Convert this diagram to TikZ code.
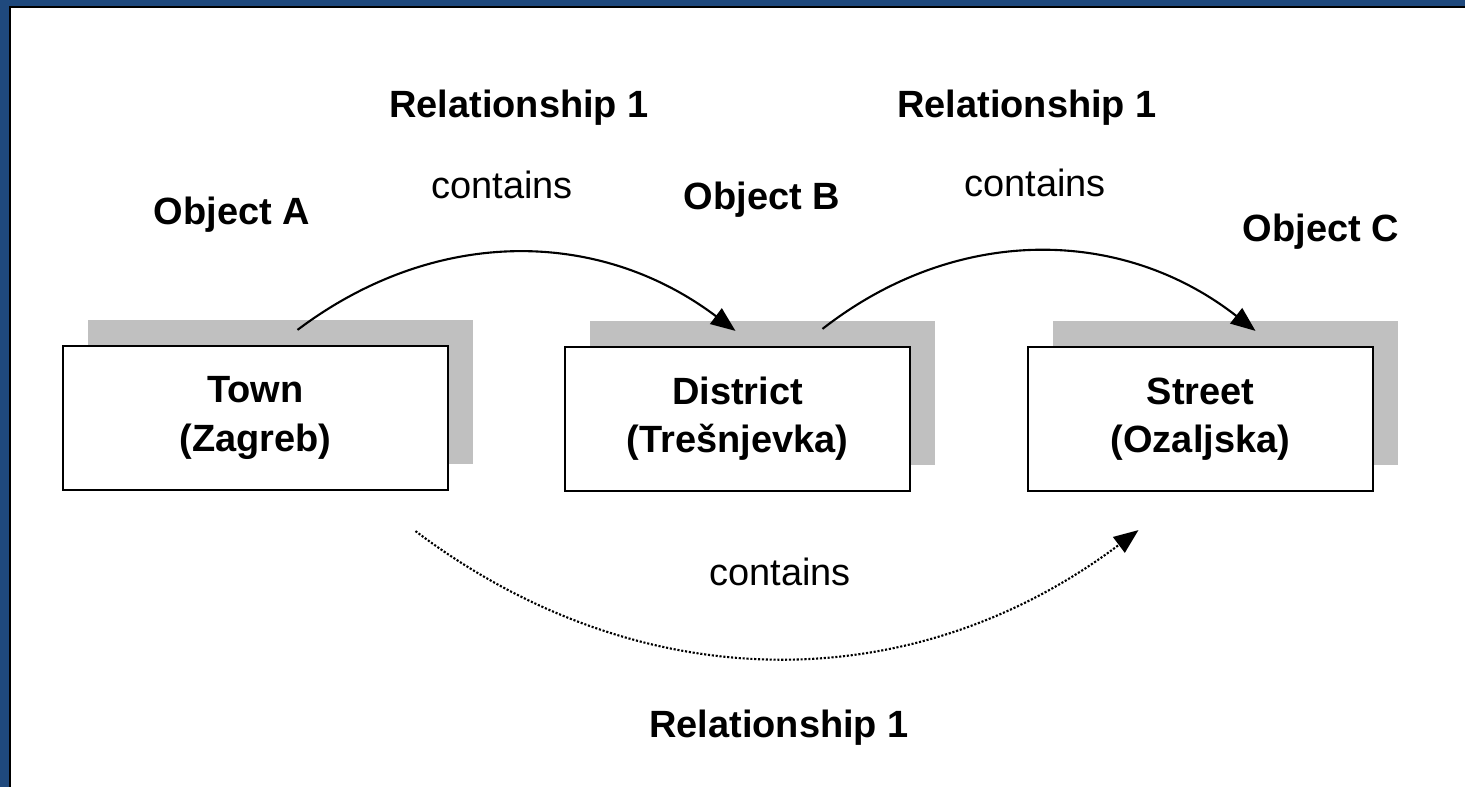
\documentclass[tikz,border=0pt]{standalone}
\usepackage{fontspec}
\setmainfont{Liberation Sans}
\usetikzlibrary{arrows.meta,shadows}

\definecolor{framebg}{HTML}{1F497D}
\definecolor{shadowgray}{HTML}{C0C0C0}

\tikzset{
  object/.style={draw=black, line width=0.6pt, fill=white, align=center,
    font=\bfseries, inner sep=0pt, minimum height=1.44cm,
    drop shadow={shadow xshift=0.25cm, shadow yshift=0.26cm,
      fill=shadowgray, opacity=1}},
  caption/.style={font=\bfseries},
  relname/.style={font=\normalfont},
  containsarrow/.style={line width=0.6pt, -{Triangle[length=7pt,width=5.5pt]}},
  impliedarrow/.style={containsarrow, dash pattern=on 0.6pt off 0.5pt},
}

\begin{document}
\fontsize{10.8}{13.7}\selectfont
\begin{tikzpicture}[x=0.01cm,y=0.01cm]
  % frame
  \fill[framebg] (0,0) rectangle (1465,787);
  \fill[black] (9,0) rectangle (1465,781);
  \fill[white] (11,0) rectangle (1465,779);

  % objects
  \node[object, minimum width=3.85cm] (town) at (255.5,369) {Town\\(Zagreb)};
  \node[object, minimum width=3.45cm] (district) at (737.5,368) {District\\(Trešnjevka)};
  \node[object, minimum width=3.45cm] (street) at (1200.5,368) {Street\\(Ozaljska)};

  \node[caption] (objA) at (232,572) {Object A};
  \node[caption] (objB) at (762,587) {Object B};
  \node[caption] (objC) at (1321,555) {Object C};

  % relationships
  \node[caption] (relAB) at (519,679) {Relationship 1};
  \node[relname] (contAB) at (502,602) {contains};
  \node[caption] (relBC) at (1027,679) {Relationship 1};
  \node[relname] (contBC) at (1035,604) {contains};
  \node[relname] (contAC) at (780,215) {contains};
  \node[caption] (relAC) at (779,59) {Relationship 1};

  \coordinate (abStart) at ([shift={(42,15)}]town.north);
  \coordinate (abEnd) at ([shift={(-2,15)}]district.north);
  \coordinate (bcStart) at ([shift={(85,17)}]district.north);
  \coordinate (bcEnd) at ([shift={(55,15)}]street.north);
  \coordinate (acStart) at ([shift={(160,-40)}]town.south);
  \coordinate (acEnd) at ([shift={(-62,-38)}]street.south);

  \draw[containsarrow] (abStart) to[out=37,in=143] (abEnd);
  \draw[containsarrow] (bcStart) to[out=38,in=142] (bcEnd);
  \draw[impliedarrow] (acStart) to[out=-37,in=-143] (acEnd);
\end{tikzpicture}
\end{document}
